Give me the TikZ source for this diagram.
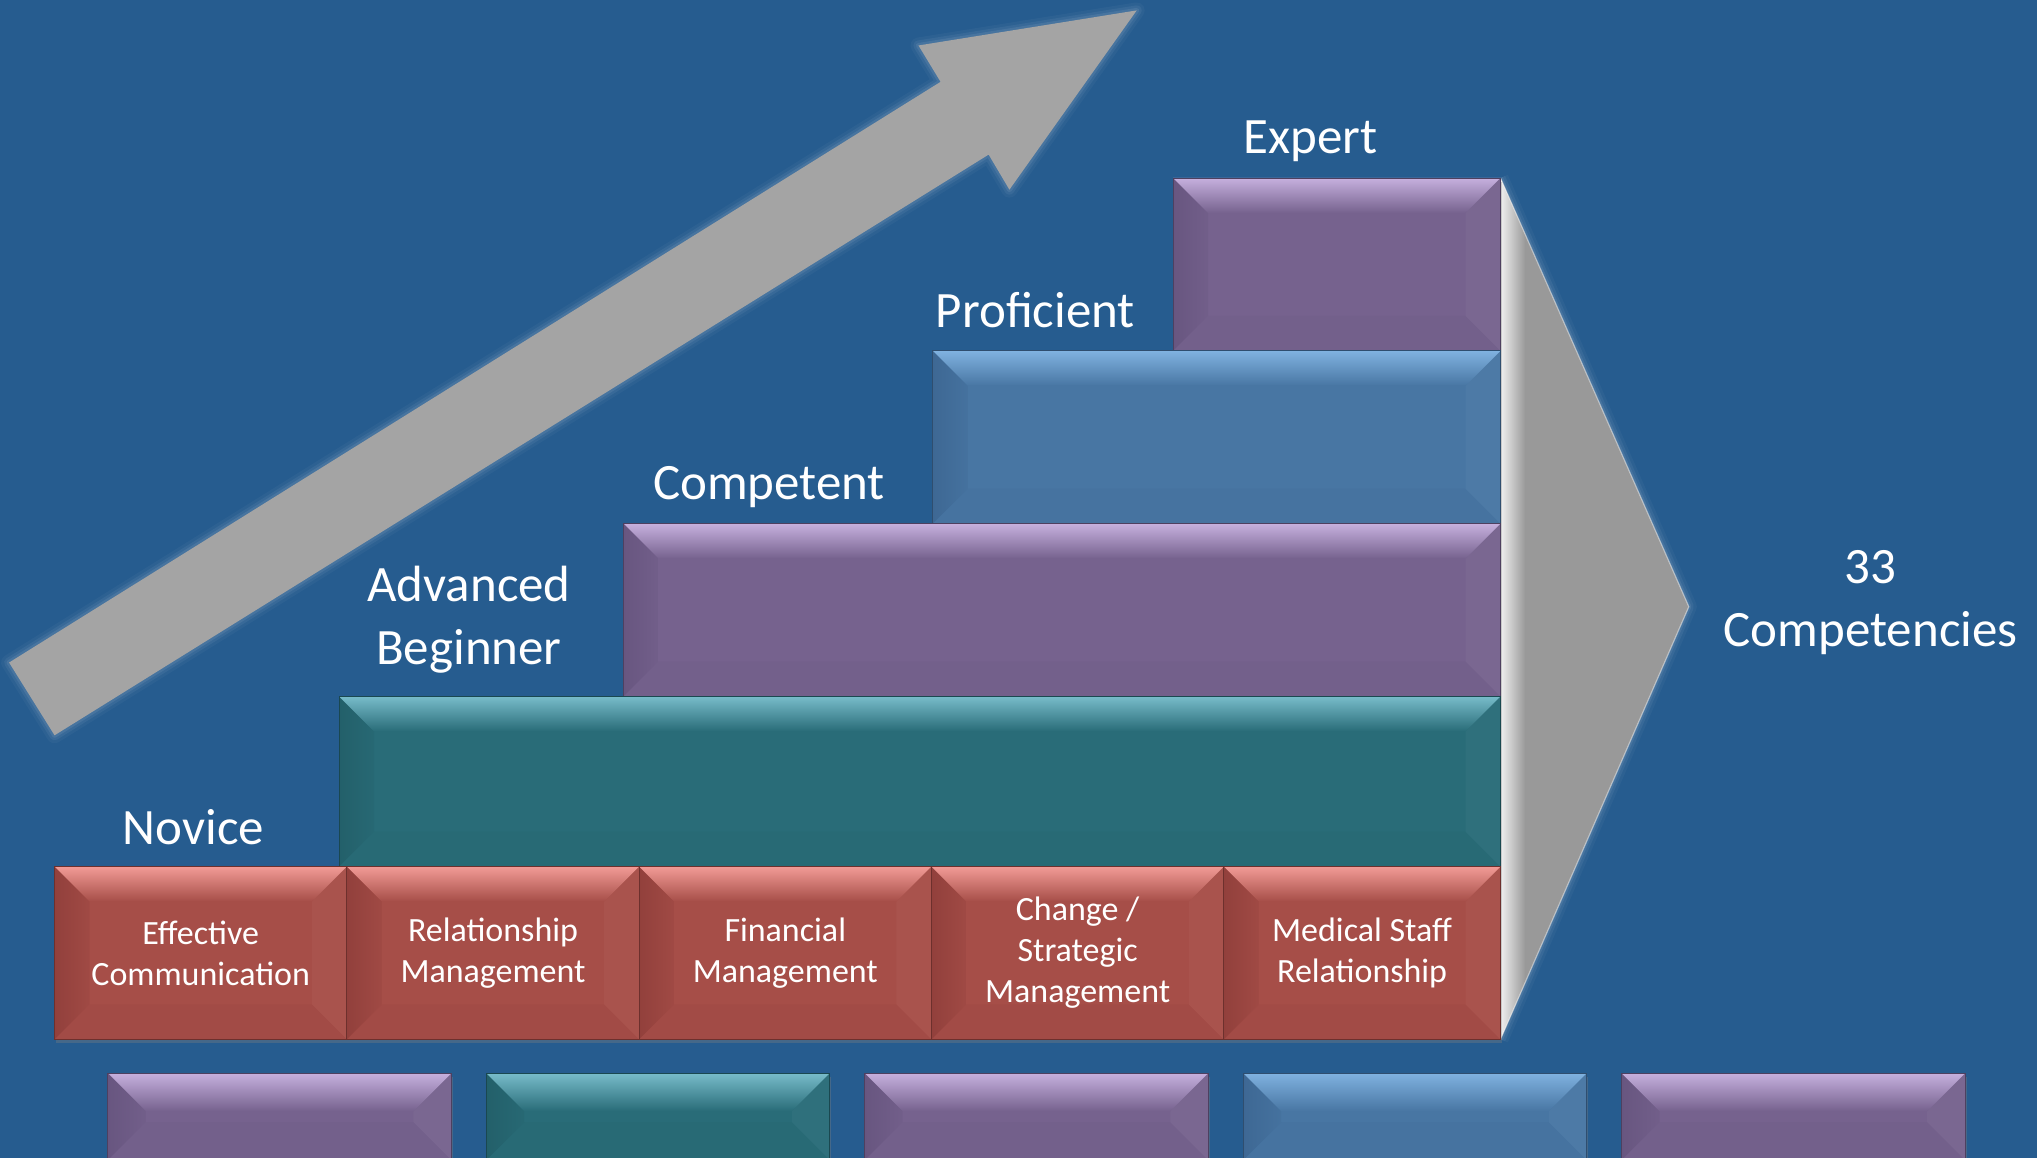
\documentclass[tikz,border=0pt]{standalone}
\usepackage{fontspec}
\setmainfont{Carlito}
\usepackage{xcolor}
\usepackage{tikz}
\usetikzlibrary{
    calc,
    shadows
}

\definecolor{slideblue}{RGB}{38,92,143}
\definecolor{arrowgray}{RGB}{164,164,164}
\definecolor{fangray}{RGB}{153,153,153}
\definecolor{redBase}{RGB}{166,78,72}
\definecolor{redTop}{RGB}{242,155,150}
\definecolor{redDark}{RGB}{146,64,60}
\definecolor{tealBase}{RGB}{41,108,120}
\definecolor{tealTop}{RGB}{120,188,202}
\definecolor{tealDark}{RGB}{35,96,106}
\definecolor{purpleBase}{RGB}{118,98,142}
\definecolor{purpleTop}{RGB}{198,176,222}
\definecolor{purpleDark}{RGB}{104,86,128}
\definecolor{blueBase}{RGB}{72,118,163}
\definecolor{blueTop}{RGB}{128,178,224}
\definecolor{blueDark}{RGB}{62,104,148}

\tikzset{
    bevel depth/.store in=\bevelDepth,
    bevel depth=17.5pt,
    box size/.style 2 args={
        minimum width=#1*0.65pt,
        minimum height=#2*0.65pt
    },
    tier box/.style={
        rectangle,
        inner sep=0pt,
        fill=#1Base,
        draw=#1Dark!75!black,
        line width=0.4pt,
        text=white,
        align=center,
        font=\fontsize{17}{20.5}\selectfont,
        drop shadow={opacity=0.35, shadow xshift=0.8pt, shadow yshift=-2pt},
        path picture={
            \coordinate (bnw) at (path picture bounding box.north west);
            \coordinate (bne) at (path picture bounding box.north east);
            \coordinate (bsw) at (path picture bounding box.south west);
            \coordinate (bse) at (path picture bounding box.south east);
            % bottom, left, right and top faces of the bevel
            \fill[fill=#1Dark!20!#1Base] (bsw) -- (bse) -- ($(bse)+(-\bevelDepth,\bevelDepth)$) -- ($(bsw)+(\bevelDepth,\bevelDepth)$) -- cycle;
            \shade[left color=#1Dark, right color=#1Dark!30!#1Base] (bnw) -- ($(bnw)+(\bevelDepth,-\bevelDepth)$) -- ($(bsw)+(\bevelDepth,\bevelDepth)$) -- (bsw) -- cycle;
            \fill[fill=#1Base!97!white] (bne) -- ($(bne)+(-\bevelDepth,-\bevelDepth)$) -- ($(bse)+(-\bevelDepth,\bevelDepth)$) -- (bse) -- cycle;
            \shade[top color=#1Top, middle color=#1Top!30!#1Base, bottom color=#1Base] (bnw) -- (bne) -- ($(bne)+(-\bevelDepth,-\bevelDepth)$) -- ($(bnw)+(\bevelDepth,-\bevelDepth)$) -- cycle;
        }
    },
    tier label/.style={
        text=white,
        align=center,
        font=\fontsize{25.5}{31.5}\selectfont
    },
    glow line/.style={draw=white!55!slideblue, line join=round, opacity=#1}
}

\begin{document}
\begin{tikzpicture}[x=0.65pt, y=-0.65pt]
    \useasboundingbox (0,0) rectangle (1568,891);
    \clip (0,0) rectangle (1568,891);
    \fill[slideblue] (0,0) rectangle (1568,891);

    % rising arrow
    \foreach \w/\o in {8pt/0.06, 5pt/0.1, 2.5pt/0.15}
        \draw[glow line=\o, line width=\w] (42,566) -- (7,510) -- (724,63) -- (707,35) -- (875,8) -- (777,146) -- (761,119) -- cycle;
    \fill[arrowgray] (42,566) -- (7,510) -- (724,63) -- (707,35) -- (875,8) -- (777,146) -- (761,119) -- cycle;

    % funnel towards the total
    \foreach \w/\o in {8pt/0.06, 5pt/0.1, 2.5pt/0.15}
        \draw[glow line=\o, line width=\w] (1155,137) -- (1300,467) -- (1155,800);
    \fill[fangray] (1155,137) -- (1300,467) -- (1155,800) -- cycle;
    \begin{scope}
        \clip (1155,137) -- (1300,467) -- (1155,800) -- cycle;
        \shade[left color=gray!12, right color=fangray] (1155,137) rectangle (1174,800);
    \end{scope}
    \draw[white, opacity=0.45, line width=0.6pt] (1155,137) -- (1300,467) -- (1155,800);

    % stairs
    \node[tier box=purple, box size={252}{133}] (expert) at (1029,203.5) {};
    \node[tier box=blue, box size={437}{133}] (proficient) at (936.5,336.5) {};
    \node[tier box=purple, box size={675}{133}] (competent) at (817.5,469.5) {};
    \node[tier box=teal, box size={894}{131}] (advanced) at (708,601.5) {};

    \node[tier box=red, box size={225}{133}] (communication) at (154.5,733.5) {Effective\\Communication};
    \node[tier box=red, box size={225}{133}] (relationship) at (379.5,733.5) {Relationship\\Management};
    \node[tier box=red, box size={225}{133}] (financial) at (604.5,733.5) {Financial\\Management};
    \node[tier box=red, box size={225}{133}] (change) at (829.5,733.5) {Change /\\Strategic\\Management};
    \node[tier box=red, box size={213}{133}] (medical) at (1048.5,733.5) {Medical Staff\\Relationship};

    \foreach \tone [count=\i from 0] in {purple,teal,purple,blue,purple}
        \node[tier box=\tone, bevel depth=19pt, box size={264.5}{67}] (strip\i) at (215.25+291.3*\i,859.5) {};

    % level names
    \node[tier label] (novice) at (149,637) {Novice};
    \node[tier label] (advancedname) at (361,477) {Advanced\\Beginner};
    \node[tier label] (competentname) at (592,375) {Competent};
    \node[tier label] (proficientname) at (797,239) {Proficient};
    \node[tier label] (expertname) at (1009,109) {Expert};
    \node[tier label] (total) at (1440,464) {33\\Competencies};
\end{tikzpicture}
\end{document}
